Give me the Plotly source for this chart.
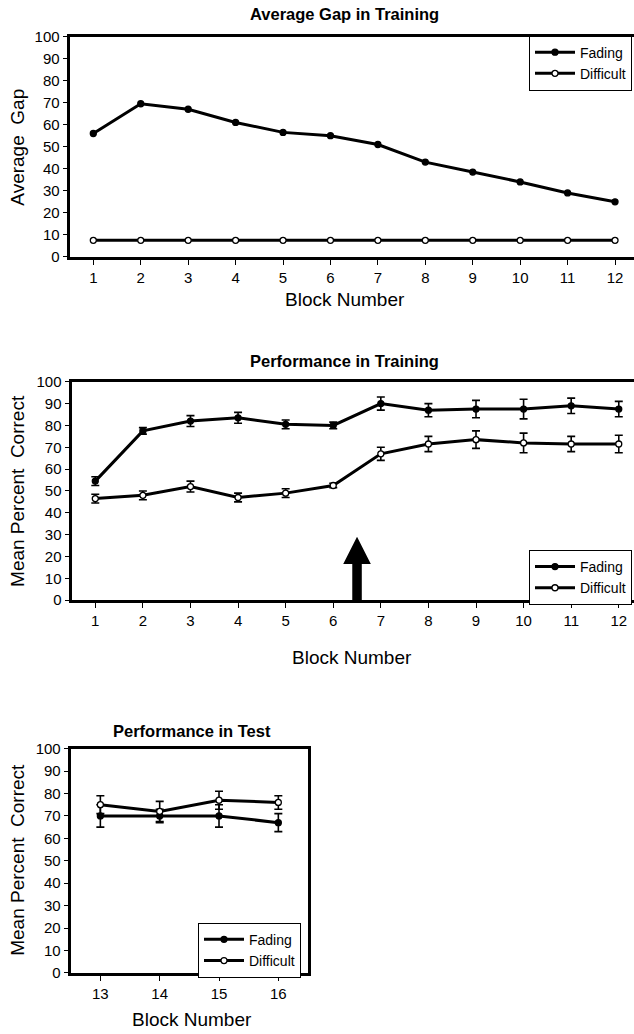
import plotly.graph_objects as go

# ---------------- data ----------------
train_blocks = list(range(1, 13))
test_blocks = [13, 14, 15, 16]

gap_fading = [56, 69.5, 67, 61, 56.5, 55, 51, 43, 38.5, 34, 29, 25]
gap_difficult = [7.5] * 12

train_fading = [54.5, 77.5, 82, 83.5, 80.5, 80, 90, 87, 87.5, 87.5, 89, 87.5]
train_fading_err = [2, 1.5, 2.5, 2.5, 2, 1.5, 3, 3, 4, 4.5, 3.5, 3.5]
train_difficult = [46.5, 48, 52, 47, 49, 52.5, 67, 71.5, 73.5, 72, 71.5, 71.5]
train_difficult_err = [2, 2, 2.5, 2, 2, 1, 3, 3.5, 4, 4.5, 3.5, 4]

test_fading = [70, 70, 70, 67]
test_fading_err = [5, 3, 5, 4]
test_difficult = [75, 72, 77, 76]
test_difficult_err = [4, 4.5, 4, 3]

y_ticks = list(range(0, 101, 10))
arrow_x = 6.5
arrow_tip = 29
arrow_head_base = 16.5

# ---------------- style ----------------
W, H = 634, 1034
FONT = "Liberation Sans, Arial, sans-serif"
BLACK = "black"


def py(p):
    return 1 - p / H


def px(p):
    return p / W


fig = go.Figure()


def add_series(x, y, err, name, filled, xa, ya, legend, show):
    kw = {}
    if err is not None:
        kw["error_y"] = dict(type="data", array=err, visible=True,
                             color=BLACK, thickness=1.6, width=4)
    fig.add_trace(go.Scatter(
        x=x, y=y, name=name, mode="lines+markers",
        line=dict(color=BLACK, width=3),
        marker=dict(symbol="circle", size=6,
                    color=BLACK if filled else "white",
                    line=dict(color=BLACK, width=1.3)),
        xaxis=xa, yaxis=ya, legend=legend, showlegend=show, **kw))


add_series(train_blocks, gap_fading, None, "Fading", True, "x", "y", "legend", True)
add_series(train_blocks, gap_difficult, None, "Difficult", False, "x", "y", "legend", True)
add_series(train_blocks, train_fading, train_fading_err, "Fading", True, "x2", "y2", "legend2", True)
add_series(train_blocks, train_difficult, train_difficult_err, "Difficult", False, "x2", "y2", "legend2", True)
add_series(test_blocks, test_fading, test_fading_err, "Fading", True, "x3", "y3", "legend3", True)
add_series(test_blocks, test_difficult, test_difficult_err, "Difficult", False, "x3", "y3", "legend3", True)

tickfont = dict(family=FONT, size=15, color=BLACK)

def xaxis(domain, rng, anchor, vals, mirror):
    return dict(domain=domain, range=rng, anchor=anchor, tickvals=vals,
                showline=True, linecolor=BLACK, linewidth=3, mirror=mirror,
                ticks="outside", ticklen=5, tickwidth=1.2, tickcolor=BLACK,
                showgrid=False, zeroline=False, tickfont=tickfont)

def yaxis(domain, anchor, mirror):
    return dict(domain=domain, range=[0, 100], anchor=anchor, tickvals=y_ticks,
                showline=True, linecolor=BLACK, linewidth=3, mirror=mirror,
                ticks="outside", ticklen=4, tickwidth=1.2, tickcolor=BLACK,
                showgrid=False, zeroline=False, tickfont=tickfont)

fig.update_layout(
    width=W, height=H, margin=dict(l=0, r=0, t=0, b=0),
    paper_bgcolor="white", plot_bgcolor="white",
    font=dict(family=FONT, color=BLACK),
    xaxis=xaxis([px(69.6), 1], [0.5, 12.40], "y", train_blocks, True),
    yaxis=yaxis([py(252), py(28)], "x", False),
    xaxis2=xaxis([px(71.5), 1], [0.5, 12.32], "y2", train_blocks, True),
    yaxis2=yaxis([py(601), py(379)], "x2", False),
    xaxis3=xaxis([px(70.7), px(308)], [12.5, 16.5], "y3", test_blocks, True),
    yaxis3=yaxis([py(980), py(752)], "x3", True),
)

legend_style = dict(bgcolor="white", bordercolor=BLACK, borderwidth=1,
                    font=dict(family=FONT, size=14, color=BLACK),
                    xanchor="right", yanchor="top", tracegroupgap=0,
                    itemwidth=40)
fig.update_layout(
    legend=dict(x=px(632), y=py(27), **legend_style),
    legend2=dict(x=px(632), y=py(550), **legend_style),
    legend3=dict(x=px(301), y=py(929), **legend_style),
)

# arrow (panel 2)
hw_head, hw_shaft = 0.29, 0.10
path = (f"M {arrow_x - hw_shaft},0 L {arrow_x - hw_shaft},{arrow_head_base} "
        f"L {arrow_x - hw_head},{arrow_head_base} L {arrow_x},{arrow_tip} "
        f"L {arrow_x + hw_head},{arrow_head_base} L {arrow_x + hw_shaft},{arrow_head_base} "
        f"L {arrow_x + hw_shaft},0 Z")
fig.add_shape(type="path", path=path, xref="x2", yref="y2",
              fillcolor=BLACK, line=dict(color=BLACK, width=0))

titlefont = dict(family=FONT, size=16.5, color=BLACK)
labfont = dict(family=FONT, size=19, color=BLACK)

def ann(text, x, y, font, angle=0):
    fig.add_annotation(text=text, x=px(x), y=py(y), xref="paper", yref="paper",
                       showarrow=False, font=font, textangle=angle,
                       xanchor="center", yanchor="middle")

ann("<b>Average Gap in Training</b>", 345, 5, titlefont)
ann("Block Number", 345, 295, labfont)
ann("Average  Gap", 18, 141, labfont, -90)

ann("<b>Performance in Training</b>", 345, 358, titlefont)
ann("Block Number", 352, 659, labfont)
ann("Mean Percent  Correct", 18, 490, labfont, -90)

ann("<b>Performance in Test</b>", 192, 734, titlefont)
ann("Block Number", 192, 1027, labfont)
ann("Mean Percent  Correct", 18, 865, labfont, -90)

fig.write_html(
    "out.html",
    config={"displayModeBar": False},
    post_script="document.body.style.margin='0';document.body.style.overflow='hidden';",
)
